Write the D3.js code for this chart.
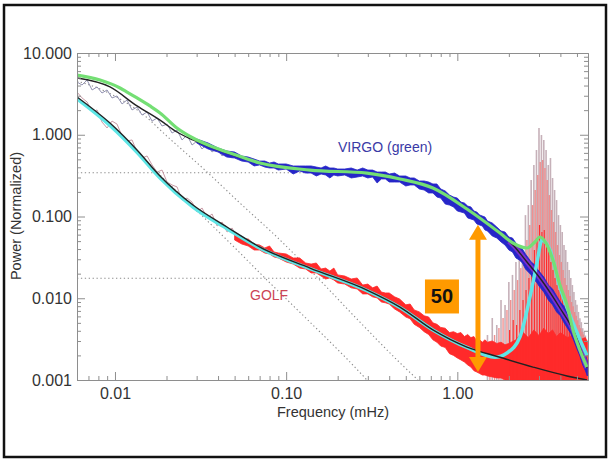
<!DOCTYPE html>
<html><head><meta charset="utf-8">
<script src="https://cdn.jsdelivr.net/npm/d3@7"></script>
<style>
html,body{margin:0;padding:0;background:#fff;}
svg{display:block;font-family:"Liberation Sans",Arial,Helvetica,sans-serif;}
</style></head><body>
<svg id="chart" width="610" height="461"></svg>
<script>
// ---------------- DATA ----------------
const xMajorTicks = [0.01, 0.1, 1];
const xTickLabels = ["0.01", "0.10", "1.00"];
const xMinorTicks = [0.007,0.008,0.009,0.02,0.03,0.04,0.05,0.06,0.07,0.08,0.09,0.2,0.3,0.4,0.5,0.6,0.7,0.8,0.9,2,3,4,5];
const yMajorTicks = [0.001, 0.01, 0.1, 1, 10];
const yTickLabels = ["0.001", "0.010", "0.100", "1.000", "10.000"];
const yMinorTicks = [0.002,0.003,0.004,0.005,0.006,0.007,0.008,0.009,0.02,0.03,0.04,0.05,0.06,0.07,0.08,0.09,0.2,0.3,0.4,0.5,0.6,0.7,0.8,0.9,2,3,4,5,6,7,8,9];

// VIRGO model fit (black)
const virgoFitFreq = [0.006,0.00935,0.01345,0.01833,0.0230,0.02856,0.0374,0.0489,0.0703,0.1378,0.2966,0.4623,0.7203,1.138,1.774,2.113,2.551,3.038,3.619,3.977,4.74,5.72];
const virgoFitPow  = [4.94,3.84,2.25,1.51,1.08,0.863,0.689,0.565,0.451,0.370,0.340,0.288,0.223,0.1235,0.0611,0.0449,0.0278,0.0177,0.0104,0.0076,0.0041,0.0014];
// VIRGO smoothed spectrum (green)
const virgoSmoothFreq = [0.006,0.00818,0.0107,0.01176,0.01345,0.0160,0.01833,0.0230,0.02856,0.0374,0.0489,0.0703,0.1378,0.2966,0.4623,0.7203,1.138,1.774,2.113,2.551,2.842,3.038,3.294,3.619,3.977,4.37,4.74,5.20,5.72];
const virgoSmoothPow  = [5.38,4.67,3.73,3.33,2.82,2.25,1.85,1.21,0.912,0.708,0.581,0.451,0.370,0.340,0.288,0.223,0.1235,0.0628,0.0474,0.0412,0.0488,0.0561,0.0474,0.0294,0.0145,0.0083,0.0041,0.00233,0.00144];
// VIRGO background without p-modes (purple)
const virgoNoModeFreq = [2.0,2.113,2.551,3.038,3.619,3.977,4.74,5.72];
const virgoNoModePow  = [0.0497,0.0449,0.0278,0.0177,0.0104,0.0076,0.0041,0.0014];

// GOLF model fit (black)
const golfFitFreq = [0.006,0.00935,0.01345,0.01833,0.02856,0.0451,0.0703,0.1378,0.2966,0.4623,0.7203,1.138,1.774,2.766,4.37,5.72];
const golfFitPow  = [2.90,1.39,0.651,0.313,0.138,0.0744,0.0423,0.0234,0.0126,0.0078,0.0041,0.00253,0.0019,0.00144,0.00112,0.0010];
// GOLF smoothed spectrum (cyan)
const golfSmoothFreq = [0.006,0.00935,0.01345,0.01833,0.02856,0.0451,0.0703,0.1378,0.2966,0.4623,0.7203,1.138,1.659,1.95,2.321,2.657,2.918,3.121,3.476,3.977,4.74,5.72];
const golfSmoothPow  = [2.75,1.30,0.61,0.295,0.130,0.071,0.0410,0.0230,0.0124,0.0077,0.0041,0.0025,0.0019,0.00214,0.00336,0.0104,0.0270,0.0516,0.0389,0.0137,0.0050,0.0020];

// background components (dotted)
const virgoWhiteFreq = [0.006, 0.3];
const virgoWhitePow  = [0.343, 0.343];
const golfWhiteFreq  = [0.006, 0.2];
const golfWhitePow   = [0.0176, 0.0176];
const virgoActFreq = [0.006,0.00818,0.0107,0.0140,0.02097,0.0345,0.0537,0.0883,0.1378,0.270,0.444,0.589];
const virgoActPow  = [4.54,3.63,2.74,1.90,0.887,0.350,0.146,0.0561,0.0222,0.0051,0.00176,0.0010];
const golfActFreq  = [0.006,0.00935,0.01345,0.01833,0.02856,0.0451,0.0773,0.1378,0.2297,0.2966];
const golfActPow   = [2.74,1.28,0.615,0.322,0.131,0.0516,0.0167,0.0051,0.00176,0.0010];

// raw spectra, low frequency part (thin lines)
const lowFreq = [0.006,0.00642,0.00687,0.00735,0.00786,0.0084,0.00899,0.00961,0.01028,0.011,0.01176,0.01258,0.01346,0.0144,0.0154,0.01647,0.01762,0.01884,0.02015,0.02155,0.02305,0.02466,0.02638,0.02821,0.03017,0.03227,0.03452,0.03692,0.03949,0.04224,0.04518,0.04832,0.05169];
const virgoLowPow = [4.42,4.06,4.67,3.53,3.84,3.24,3.53,2.82,2.98,2.38,2.66,2.01,2.18,1.74,1.90,1.47,1.60,1.28,1.35,1.05,1.14,0.863,0.993,0.749,0.839,0.669,0.771,0.615,0.689,0.550,0.633,0.519,0.598];
const golfLowPow  = [3.33,2.82,2.52,1.90,2.01,1.43,1.21,1.47,1.35,0.966,0.839,0.863,0.615,0.519,0.550,0.427,0.350,0.370,0.264,0.243,0.230,0.159,0.168,0.150,0.1135,0.127,0.0959,0.1073,0.0765,0.0856,0.0646,0.0723,0.0546];

// raw VIRGO spectrum envelope (blue)
const virgoRawFreq = [0.03,0.035,0.04,0.045,0.05,0.055,0.06,0.065,0.07,0.075,0.08,0.085,0.09,0.1,0.11,0.12,0.13,0.14,0.15,0.16,0.17,0.18,0.19,0.2,0.22,0.24,0.26,0.28,0.3,0.32,0.34,0.36,0.38,0.4,0.43,0.46,0.5,0.53,0.56,0.6,0.64,0.68,0.72,0.76,0.8,0.85,0.9,0.95,1.0,1.05,1.1,1.15,1.2,1.25,1.3,1.35,1.4,1.45,1.5,1.6,1.7,1.8,1.9,2.0,2.1,2.2,2.3,2.4,2.5,2.6,2.7,2.8,2.9,3.0,3.2,3.4,3.6,3.8,4.0,4.2,4.4,4.6,4.8,5.0,5.2,5.4,5.6,5.75];
const virgoRawHi = [0.887,0.793,0.689,0.633,0.615,0.550,0.534,0.505,0.477,0.477,0.451,0.464,0.439,0.439,0.415,0.415,0.415,0.415,0.403,0.392,0.415,0.392,0.392,0.381,0.381,0.392,0.370,0.392,0.370,0.370,0.350,0.350,0.350,0.331,0.340,0.313,0.313,0.296,0.296,0.272,0.272,0.264,0.250,0.250,0.217,0.205,0.183,0.173,0.168,0.150,0.146,0.134,0.131,0.1167,0.1135,0.1043,0.1014,0.0986,0.0881,0.0833,0.0744,0.0665,0.0646,0.0561,0.0546,0.0474,0.0424,0.0400,0.0348,0.0311,0.0278,0.0262,0.0234,0.0215,0.0182,0.0145,0.0130,0.0107,0.0090,0.0080,0.0066,0.0056,0.0047,0.0038,0.0031,0.0024,0.0020,0.0017];
const virgoRawLo = [0.793,0.669,0.615,0.534,0.519,0.477,0.464,0.415,0.427,0.403,0.392,0.392,0.370,0.381,0.331,0.360,0.340,0.340,0.313,0.331,0.322,0.296,0.322,0.313,0.322,0.296,0.304,0.313,0.296,0.304,0.257,0.288,0.288,0.264,0.264,0.264,0.236,0.243,0.243,0.217,0.211,0.194,0.194,0.173,0.168,0.142,0.138,0.131,0.1167,0.1135,0.1103,0.0959,0.0932,0.0906,0.0810,0.0787,0.0765,0.0684,0.0665,0.0577,0.0546,0.0488,0.0448,0.0389,0.0368,0.0311,0.0294,0.0270,0.0228,0.0209,0.0193,0.0167,0.0158,0.0141,0.0119,0.0095,0.0083,0.0068,0.0061,0.0050,0.0043,0.0037,0.0030,0.0024,0.00197,0.00153,0.0013,0.00112];

// raw GOLF spectrum envelope (red)
const golfRawFreq = [0.05,0.055,0.06,0.065,0.07,0.075,0.08,0.085,0.09,0.1,0.11,0.12,0.13,0.14,0.15,0.16,0.17,0.18,0.19,0.2,0.22,0.24,0.26,0.28,0.3,0.32,0.34,0.36,0.38,0.4,0.43,0.46,0.5,0.53,0.56,0.6,0.64,0.68,0.72,0.76,0.8,0.85,0.9,0.95,1.0,1.05,1.1,1.15,1.2,1.25,1.3,1.35,1.4,1.45,1.5,1.6,1.7,1.8,1.9,2.0,2.2,2.4,2.6,2.8,3.0,3.2,3.4,3.6,3.8,4.0,4.4,4.8,5.2,5.6,5.75];
const golfRawHi = [0.0594,0.0531,0.0531,0.0461,0.0448,0.0412,0.0436,0.0368,0.0358,0.0348,0.0311,0.0311,0.0270,0.0262,0.0270,0.0228,0.0234,0.0215,0.0234,0.0193,0.0187,0.0172,0.0177,0.0145,0.0149,0.0134,0.0141,0.0119,0.0116,0.0116,0.0104,0.0098,0.0083,0.0085,0.0072,0.0068,0.0061,0.0059,0.0050,0.0048,0.0044,0.0043,0.0038,0.0039,0.0037,0.0038,0.0034,0.0036,0.0033,0.0034,0.0030,0.0031,0.0029,0.0031,0.0029,0.0030,0.0028,0.0029,0.0027,0.0028,0.0031,0.0039,0.0033,0.0041,0.0035,0.0043,0.0037,0.0041,0.0034,0.0038,0.0033,0.0036,0.0031,0.0033,0.0029];
const golfRawLo = [0.0516,0.0461,0.0436,0.0389,0.0389,0.0358,0.0348,0.0320,0.0311,0.0278,0.0262,0.0234,0.0228,0.0204,0.0204,0.0187,0.0172,0.0177,0.0167,0.0154,0.0149,0.0134,0.0130,0.0113,0.0113,0.0104,0.0101,0.0090,0.0088,0.0085,0.0074,0.0068,0.0059,0.0056,0.0048,0.0044,0.0039,0.0036,0.0031,0.0029,0.0026,0.0025,0.0021,0.0020,0.00186,0.00176,0.00166,0.00153,0.00144,0.0013,0.00125,0.0012,0.00115,0.00115,0.00112,0.00109,0.00106,0.00106,0.0010,0.0010,0.0010,0.0010,0.0010,0.0010,0.0010,0.0010,0.0010,0.0010,0.0010,0.0010,0.0010,0.0010,0.0010,0.0010,0.0010];

// p-mode peaks
const pmodeGrayFreq = [1.5,1.6,1.7,1.8,1.9,2.0,2.1,2.2,2.3,2.4,2.5,2.6,2.7,2.8,2.9,3.0,3.1,3.2,3.3,3.4,3.5,3.6,3.7,3.8,3.9,4.0,4.1,4.2,4.3,4.4,4.5,4.6,4.7,4.8,4.9,5.0,5.1,5.2,5.3,5.4,5.5,5.6,5.7];
const pmodeGrayPow  = [0.00355,0.00573,0.00471,0.00952,0.00827,0.0158,0.0193,0.0278,0.0448,0.0389,0.104,0.138,0.280,0.427,0.651,1.21,0.993,0.863,0.651,0.427,0.519,0.296,0.211,0.159,0.104,0.0787,0.0646,0.0448,0.0389,0.0278,0.0222,0.0177,0.0145,0.0119,0.0095,0.0083,0.0068,0.0057,0.0051,0.0043,0.0039,0.0035,0.0031];
const pmodePinkFreq = [1.55,1.65,1.75,1.85,1.95,2.05,2.15,2.25,2.35,2.45,2.55,2.65,2.75,2.85,2.95,3.05,3.15,3.25,3.35,3.45,3.55,3.65,3.75,3.85,3.95,4.05,4.15,4.25,4.35,4.45,4.55,4.65,4.75,4.85,4.95,5.05,5.15,5.25,5.35,5.45,5.55,5.65];
const pmodePinkPow  = [0.00268,0.00355,0.00433,0.00573,0.00718,0.00952,0.0126,0.0167,0.0234,0.0338,0.0516,0.0787,0.138,0.211,0.322,0.464,0.491,0.392,0.280,0.183,0.120,0.0857,0.0646,0.0448,0.0338,0.0278,0.0222,0.0177,0.0145,0.0126,0.01065,0.0090,0.0080,0.0068,0.0061,0.0054,0.0047,0.0043,0.0039,0.0036,0.00326,0.0029];
const pmodeRedFreq = [2.02,2.12,2.22,2.32,2.42,2.52,2.62,2.72,2.82,2.92,3.02,3.12,3.22,3.32,3.42,3.52,3.62,3.72,3.82,3.92,4.02,4.12,4.22,4.32,4.42,4.52,4.62,4.72,4.82,4.92,5.02,5.12,5.22,5.32,5.42,5.52,5.62];
const pmodeRedPow  = [0.00409,0.00542,0.00471,0.00718,0.00952,0.0126,0.0177,0.0255,0.0389,0.0516,0.0787,0.0646,0.0684,0.0448,0.0389,0.0278,0.0222,0.0177,0.0145,0.0126,0.01335,0.01007,0.00952,0.0076,0.0068,0.00624,0.0051,0.00542,0.0041,0.0043,0.00355,0.0031,0.00326,0.00268,0.00246,0.00233,0.00202];

// annotation: VIRGO / GOLF ratio arrow
const arrowFreq = 1.32;
const arrowTopPow = 0.079;
const arrowBottomPow = 0.00125;
const ratioLabel = "50";

// ---------------- DRAWING ----------------
const W = 610, H = 461;
const M = {left: 77, right: 588, top: 53, bottom: 380};
const FONT = '"Liberation Sans", Arial, Helvetica, sans-serif';
const x = d3.scaleLog().domain([0.006, 5.8]).range([M.left, M.right]);
const y = d3.scaleLog().domain([0.001, 10]).range([M.bottom, M.top]);
const svg = d3.select("#chart");

svg.append("rect").attr("width", W).attr("height", H).attr("fill", "#fff");
svg.append("rect").attr("x", 4).attr("y", 5).attr("width", 602).attr("height", 452)
  .attr("fill", "none").attr("stroke", "#111").attr("stroke-width", 2.5);

svg.append("defs").append("clipPath").attr("id", "clip").append("rect")
  .attr("x", M.left).attr("y", M.top).attr("width", M.right - M.left).attr("height", M.bottom - M.top);
const plot = svg.append("g").attr("clip-path", "url(#clip)");

const zip = (fs, ps) => fs.map((f, i) => [f, ps[i]]);
const zip3 = (fs, hi, lo) => fs.map((f, i) => [f, hi[i], lo[i]]);
const smooth = d3.line().x(d => x(d[0])).y(d => y(d[1])).curve(d3.curveMonotoneX);
const jag = d3.line().x(d => x(d[0])).y(d => y(d[1]));
const band = d3.area().x(d => x(d[0])).y0(d => y(d[2])).y1(d => y(d[1]));

// dotted background components
[[virgoWhiteFreq, virgoWhitePow], [golfWhiteFreq, golfWhitePow], [virgoActFreq, virgoActPow], [golfActFreq, golfActPow]]
  .forEach(([f, p]) => {
    plot.append("path").attr("d", smooth(zip(f, p))).attr("fill", "none")
      .attr("stroke", "#8a8a8a").attr("stroke-width", 1.1).attr("stroke-dasharray", "1.3,2.6");
  });

// p-mode peaks
function spikes(f, p, color, w, op) {
  plot.append("g").selectAll("line").data(zip(f, p)).join("line")
    .attr("x1", d => x(d[0])).attr("x2", d => x(d[0]))
    .attr("y1", y(0.001)).attr("y2", d => y(d[1]))
    .attr("stroke", color).attr("stroke-width", w).attr("opacity", op);
}
spikes(pmodeGrayFreq, pmodeGrayPow, "#c4adb6", 1.6, 0.95);
spikes(pmodePinkFreq, pmodePinkPow, "#ef8585", 1.4, 0.9);

// GOLF raw
plot.append("path").attr("d", jag(zip(lowFreq, golfLowPow))).attr("fill", "none")
  .attr("stroke", "#c99aa6").attr("stroke-width", 1);
plot.append("path").attr("d", band(zip3(golfRawFreq, golfRawHi, golfRawLo)))
  .attr("fill", "#ff2a2a").attr("stroke", "#ff2a2a").attr("stroke-width", 0.8);
spikes(pmodeRedFreq, pmodeRedPow, "#ff2a2a", 1.1, 1);

// VIRGO raw
plot.append("path").attr("d", jag(zip(lowFreq, virgoLowPow))).attr("fill", "none")
  .attr("stroke", "#9090b0").attr("stroke-width", 1);
plot.append("path").attr("d", band(zip3(virgoRawFreq, virgoRawHi, virgoRawLo)))
  .attr("fill", "#2626c8").attr("stroke", "#2626c8").attr("stroke-width", 0.8);
plot.append("path").attr("d", smooth(zip(virgoNoModeFreq, virgoNoModePow))).attr("fill", "none")
  .attr("stroke", "#7a2fcf").attr("stroke-width", 5);

// GOLF smoothed + fit
plot.append("path").attr("d", smooth(zip(golfSmoothFreq, golfSmoothPow))).attr("fill", "none")
  .attr("stroke", "#5fe6e6").attr("stroke-width", 3.5);
plot.append("path").attr("d", smooth(zip(golfFitFreq, golfFitPow))).attr("fill", "none")
  .attr("stroke", "#222").attr("stroke-width", 1.4);

// VIRGO fit + smoothed
plot.append("path").attr("d", smooth(zip(virgoFitFreq, virgoFitPow))).attr("fill", "none")
  .attr("stroke", "#222").attr("stroke-width", 1.4);
plot.append("path").attr("d", smooth(zip(virgoSmoothFreq, virgoSmoothPow))).attr("fill", "none")
  .attr("stroke", "#74df74").attr("stroke-width", 3.2);

// axes
const axisColor = "#8e8e8e";
function styleAxis(g) {
  g.select(".domain").attr("stroke", axisColor);
  g.selectAll(".tick line").attr("stroke", axisColor);
  g.selectAll("text").attr("fill", "#333").style("font-size", "16px").style("font-family", FONT);
}
svg.append("g").attr("transform", `translate(0,${M.bottom})`)
  .call(d3.axisBottom(x).tickValues(xMajorTicks).tickFormat((d, i) => xTickLabels[i]).tickSize(-8).tickSizeOuter(0).tickPadding(8))
  .call(styleAxis);
svg.append("g").attr("transform", `translate(0,${M.bottom})`)
  .call(d3.axisBottom(x).tickValues(xMinorTicks).tickFormat(() => "").tickSize(-4).tickSizeOuter(0))
  .call(styleAxis);
svg.append("g").attr("transform", `translate(0,${M.top})`)
  .call(d3.axisTop(x).tickValues(xMajorTicks).tickFormat(() => "").tickSize(-8).tickSizeOuter(0))
  .call(styleAxis);
svg.append("g").attr("transform", `translate(0,${M.top})`)
  .call(d3.axisTop(x).tickValues(xMinorTicks).tickFormat(() => "").tickSize(-4).tickSizeOuter(0))
  .call(styleAxis);
svg.append("g").attr("transform", `translate(${M.left},0)`)
  .call(d3.axisLeft(y).tickValues(yMajorTicks).tickFormat((d, i) => yTickLabels[i]).tickSize(-8).tickSizeOuter(0).tickPadding(5))
  .call(styleAxis);
svg.append("g").attr("transform", `translate(${M.left},0)`)
  .call(d3.axisLeft(y).tickValues(yMinorTicks).tickFormat(() => "").tickSize(-4).tickSizeOuter(0))
  .call(styleAxis);
svg.append("g").attr("transform", `translate(${M.right},0)`)
  .call(d3.axisRight(y).tickValues(yMajorTicks).tickFormat(() => "").tickSize(-8).tickSizeOuter(0))
  .call(styleAxis);
svg.append("g").attr("transform", `translate(${M.right},0)`)
  .call(d3.axisRight(y).tickValues(yMinorTicks).tickFormat(() => "").tickSize(-4).tickSizeOuter(0))
  .call(styleAxis);

// axis titles
svg.append("text").attr("x", 333).attr("y", 417).attr("text-anchor", "middle")
  .style("font-family", FONT).style("font-size", "14.5px").attr("fill", "#333").text("Frequency (mHz)");
svg.append("text").attr("transform", "translate(21,216) rotate(-90)").attr("text-anchor", "middle")
  .style("font-family", FONT).style("font-size", "14.5px").attr("fill", "#333").text("Power (Normalized)");

// series labels
svg.append("text").attr("x", 338).attr("y", 152)
  .style("font-family", FONT).style("font-size", "14px").attr("fill", "#3a3aa6").text("VIRGO (green)");
svg.append("text").attr("x", 250).attr("y", 300)
  .style("font-family", FONT).style("font-size", "14px").attr("fill", "#cc4455").text("GOLF");

// ratio arrow
const ax = x(arrowFreq), ay1 = y(arrowTopPow), ay2 = y(arrowBottomPow);
const orange = "#ff9a00";
const head = 15, hw = 9;
svg.append("line").attr("x1", ax).attr("x2", ax).attr("y1", ay1 + head - 1).attr("y2", ay2 - head + 1)
  .attr("stroke", orange).attr("stroke-width", 5);
svg.append("path").attr("d", `M${ax},${ay1} L${ax + hw},${ay1 + head} L${ax - hw},${ay1 + head} Z`).attr("fill", orange);
svg.append("path").attr("d", `M${ax},${ay2} L${ax + hw},${ay2 - head} L${ax - hw},${ay2 - head} Z`).attr("fill", orange);
const by = (ay1 + ay2) / 2 - 19;
svg.append("rect").attr("x", ax - 53).attr("y", by).attr("width", 34).attr("height", 34).attr("fill", orange);
svg.append("text").attr("x", ax - 36).attr("y", by + 24).attr("text-anchor", "middle")
  .style("font-family", FONT).style("font-size", "20px").style("font-weight", "bold").attr("fill", "#111").text(ratioLabel);
</script></body></html>
